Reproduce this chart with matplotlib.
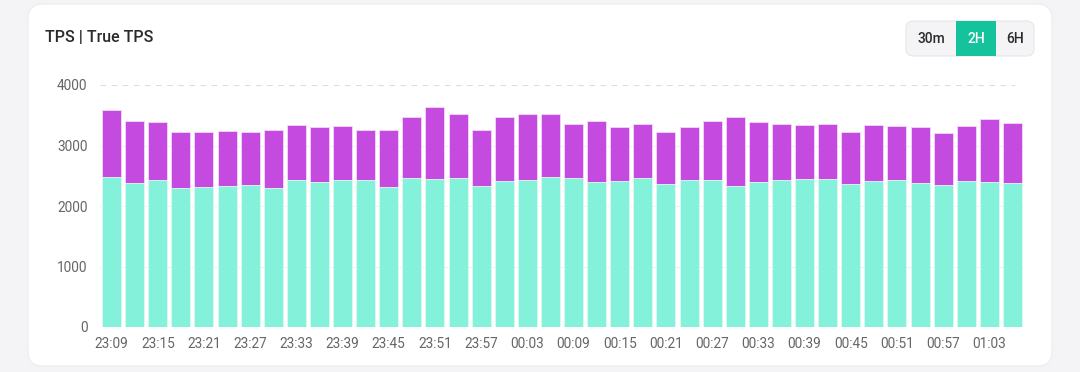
import matplotlib
matplotlib.use("Agg")
import matplotlib.pyplot as plt
from matplotlib.patches import FancyBboxPatch, Rectangle

plt.rcParams['font.family'] = ['Roboto', 'DejaVu Sans']

# time axis, one bar every 3 minutes
times = ['23:09', '23:12', '23:15', '23:18', '23:21', '23:24', '23:27', '23:30',
         '23:33', '23:36', '23:39', '23:42', '23:45', '23:48', '23:51', '23:54',
         '23:57', '00:00', '00:03', '00:06', '00:09', '00:12', '00:15', '00:18',
         '00:21', '00:24', '00:27', '00:30', '00:33', '00:36', '00:39', '00:42',
         '00:45', '00:48', '00:51', '00:54', '00:57', '01:00', '01:03', '01:06']

tps = [3587, 3405, 3388, 3229, 3223, 3240, 3223, 3256, 3344, 3306,
       3322, 3256, 3256, 3476, 3636, 3526, 3256, 3471, 3521, 3526,
       3355, 3405, 3306, 3361, 3223, 3306, 3405, 3466, 3388, 3361,
       3344, 3361, 3223, 3344, 3328, 3311, 3212, 3322, 3438, 3366]

true_tps = [2479, 2380, 2435, 2303, 2320, 2331, 2347, 2298, 2430, 2397,
            2430, 2424, 2314, 2463, 2452, 2463, 2331, 2413, 2430, 2479,
            2463, 2397, 2413, 2463, 2364, 2430, 2430, 2331, 2397, 2430,
            2452, 2452, 2364, 2413, 2430, 2386, 2347, 2419, 2397, 2380]

yticks = [0, 1000, 2000, 3000, 4000]
ranges = ['30m', '2H', '6H']

purple = '#c44ae0'
teal = '#84f2da'
green = '#14c39b'
W, H = 1080, 372

fig = plt.figure(figsize=(W / 100, H / 100), dpi=100)
fig.patch.set_facecolor('#f4f3f6')

# white card (behind the axes)
card = FancyBboxPatch((28 / W, 1 - 366 / H), (1052 - 28) / W, (366 - 4) / H,
                      boxstyle="round,pad=0,rounding_size=0.014",
                      mutation_aspect=W / H,
                      transform=fig.transFigure, facecolor='white',
                      edgecolor='#ececf0', linewidth=0.8, zorder=-5)
fig.patches.append(card)

fig.text(45 / W, 1 - 38 / H, 'TPS | True TPS', fontsize=11.5, fontweight='medium',
         color='#2b2b2b', va='center', ha='left')

# range buttons
grp = FancyBboxPatch((906 / W, 1 - 56 / H), (1034 - 906) / W, 35 / H,
                     boxstyle="round,pad=0,rounding_size=0.007",
                     mutation_aspect=W / H,
                     transform=fig.transFigure, facecolor='#f4f4f6',
                     edgecolor='#e6e6ea', linewidth=0.8, zorder=-4)
fig.patches.append(grp)
fig.patches.append(Rectangle((956 / W, 1 - 56 / H), 40 / W, 35 / H,
                             transform=fig.transFigure, facecolor=green,
                             edgecolor='none', zorder=-3))
centers = [931, 976, 1015]
for lab, cx in zip(ranges, centers):
    col = 'white' if lab == '2H' else '#2b2b2b'
    fig.text(cx / W, 1 - 39 / H, lab, fontsize=10, fontweight='medium',
             color=col, ha='center', va='center')

ax = fig.add_axes([100 / W, 1 - 327 / H, (1024 - 100) / W, (327 - 85) / H])
ax.set_facecolor('none')
x = list(range(len(times)))

for y in yticks[1:-1]:
    ax.axhline(y, color='#f0f0f2', linewidth=0.8, zorder=0)
ax.axhline(yticks[-1], color='#dcdce0', linewidth=0.8, linestyle=(0, (5, 5)),
           xmax=0.99, zorder=0)

ax.bar(x, tps, width=0.82, color=purple, edgecolor='#f3d8fa', linewidth=0.6, zorder=2)
ax.bar(x, true_tps, width=0.82, color=teal, edgecolor='#e6fbf5', linewidth=0.6, zorder=3)

ax.set_xlim(-0.5, len(times) - 0.5)
ax.set_ylim(0, 4000)
ax.set_yticks(yticks)
ax.set_yticklabels([str(v) for v in yticks])
ax.set_xticks(x[::2])
ax.set_xticklabels(times[::2])
ax.tick_params(axis='both', length=0, labelsize=9.8, labelcolor='#666666')
ax.tick_params(axis='y', pad=9)
ax.tick_params(axis='x', pad=7)
for s in ax.spines.values():
    s.set_visible(False)

fig.savefig('out.png', dpi=100, facecolor=fig.get_facecolor())
